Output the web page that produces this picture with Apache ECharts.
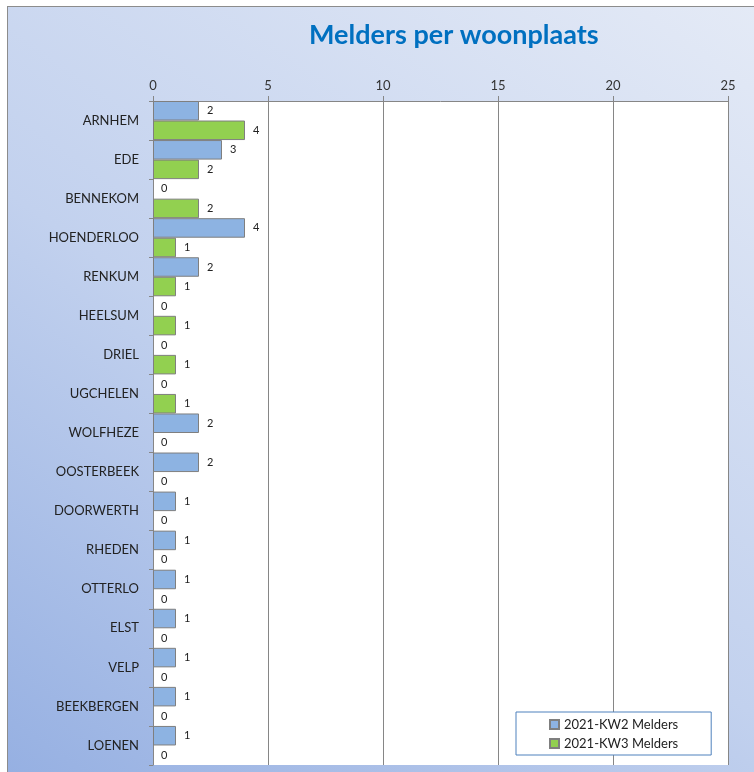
<!DOCTYPE html>
<html>
<head>
<meta charset="utf-8">
<script src="https://cdn.jsdelivr.net/npm/echarts@6/dist/echarts.min.js"></script>
<style>
  html, body { margin: 0; padding: 0; background: #ffffff; }
  .frame {
    position: absolute;
    left: 7px;
    top: 6px;
    width: 747px;
    height: 766px;
    border-left: 1px solid #8c8c8c;
    border-top: 1px solid #8c8c8c;
    box-sizing: border-box;
    background: linear-gradient(35deg, #96b0e2 0%, #c2d1ee 45%, #e4eaf6 100%);
  }
  #chart { position: absolute; left: 0; top: 0; width: 754px; height: 772px; }
</style>
</head>
<body>
<div class="frame"></div>
<div id="chart"></div>
<script>
const places = ["ARNHEM", "EDE", "BENNEKOM", "HOENDERLOO", "RENKUM", "HEELSUM", "DRIEL",
  "UGCHELEN", "WOLFHEZE", "OOSTERBEEK", "DOORWERTH", "RHEDEN", "OTTERLO", "ELST",
  "VELP", "BEEKBERGEN", "LOENEN"];
const kw2 = [2, 3, 0, 4, 2, 0, 0, 0, 2, 2, 1, 1, 1, 1, 1, 1, 1];
const kw3 = [4, 2, 2, 1, 1, 1, 1, 1, 0, 0, 0, 0, 0, 0, 0, 0, 0];
const seriesNames = ["2021-KW2 Melders", "2021-KW3 Melders"];

const font = "Lato, 'Noto Sans', sans-serif";

const chart = echarts.init(document.getElementById("chart"));

const valueLabel = {
  show: true,
  position: "right",
  distance: 8,
  fontSize: 11,
  fontFamily: font,
  color: "#222",
};

// no outline on empty bars
const toBarData = (values) =>
  values.map((v) => (v === 0 ? { value: v, itemStyle: { borderWidth: 0 } } : v));

chart.setOption({
  backgroundColor: "transparent",
  textStyle: { fontFamily: font },
  title: {
    text: "Melders per woonplaats",
    left: 304,
    top: 17,
    textStyle: { fontSize: 27, fontWeight: "bold", color: "#0070c0", fontFamily: font },
  },
  legend: {
    orient: "vertical",
    left: 516,
    top: 712,
    data: seriesNames,
    icon: "rect",
    itemWidth: 9,
    itemHeight: 9,
    itemGap: 6,
    backgroundColor: "#ffffff",
    borderColor: "#4f81bd",
    borderWidth: 1,
    borderRadius: 0,
    padding: [6, 33, 5, 33],
    textStyle: { fontSize: 13, color: "#222", fontFamily: font },
  },
  grid: {
    left: 153,
    right: 26,
    top: 101,
    bottom: 7,
    backgroundColor: "#ffffff",
    show: true,
    borderWidth: 0,
  },
  xAxis: {
    type: "value",
    position: "top",
    min: 0,
    max: 25,
    interval: 5,
    axisLine: { show: true, lineStyle: { color: "#868686" } },
    axisTick: { show: true, length: 5, lineStyle: { color: "#868686" } },
    axisLabel: { fontSize: 13, color: "#333", margin: 9, fontFamily: font },
    splitLine: { show: true, lineStyle: { color: "#868686", width: 1 } },
  },
  yAxis: {
    type: "category",
    inverse: true,
    data: places,
    axisLine: { show: true, lineStyle: { color: "#868686" } },
    axisTick: { show: true, length: 4, lineStyle: { color: "#868686" } },
    axisLabel: { fontSize: 13, color: "#222", margin: 14, fontFamily: font },
  },
  series: [
    {
      name: seriesNames[0],
      type: "bar",
      data: toBarData(kw2),
      barGap: "0%",
      barCategoryGap: "0%",
      itemStyle: { color: "#8db3e2", borderColor: "#7f7f7f", borderWidth: 1 },
      label: valueLabel,
    },
    {
      name: seriesNames[1],
      type: "bar",
      data: toBarData(kw3),
      barGap: "0%",
      barCategoryGap: "0%",
      itemStyle: { color: "#92d050", borderColor: "#7f7f7f", borderWidth: 1 },
      label: valueLabel,
    },
  ],
});
</script>
</body>
</html>
